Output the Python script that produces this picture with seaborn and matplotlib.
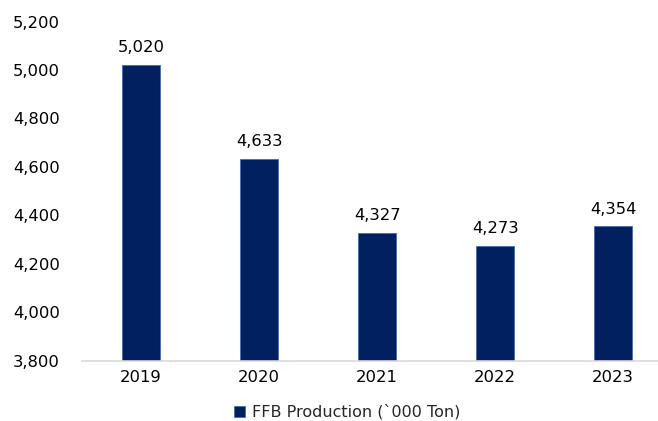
import matplotlib
matplotlib.use("Agg")
import matplotlib.pyplot as plt
import seaborn as sns
import pandas as pd

years = ["2019", "2020", "2021", "2022", "2023"]
production = [5020, 4633, 4327, 4273, 4354]
series_name = "FFB Production (`000 Ton)"
y_ticks = [3800, 4000, 4200, 4400, 4600, 4800, 5000, 5200]

df = pd.DataFrame({"Year": years, "Production": production, "Series": series_name})

sns.set_theme(style="white")
plt.rcParams["font.family"] = ["DejaVu Sans"]

fig = plt.figure(figsize=(6.58, 4.21), dpi=100)
W, H = 658, 421
ax = fig.add_axes([82 / W, 1 - 360.5 / H, (W - 82) / W, (360.5 - 21.5) / H])

navy = "#002060"
sns.barplot(data=df, x="Year", y="Production", hue="Series", palette=[navy],
            saturation=1, width=0.32, ax=ax, edgecolor="#4a6aa8", linewidth=0.6)

ax.set_ylim(3800, 5200)
ax.set_xlim(-0.5, 4.38)
ax.set_yticks(y_ticks)
ax.set_yticklabels([f"{v:,}" for v in y_ticks])
ax.set_xlabel("")
ax.set_ylabel("")
ax.tick_params(axis="both", length=0, labelsize=11.8, colors="black")
ax.tick_params(axis="y", pad=16)
ax.tick_params(axis="x", pad=7)

for s in ["top", "right", "left"]:
    ax.spines[s].set_visible(False)
ax.spines["bottom"].set_color("#d9d9d9")
ax.spines["bottom"].set_linewidth(1.2)

for c in ax.containers:
    ax.bar_label(c, labels=[f"{v:,}" for v in production], padding=7,
                 fontsize=11.8, color="black")

leg = ax.legend(loc="center", bbox_to_anchor=(347 / W, 1 - 412 / H),
                bbox_transform=fig.transFigure, frameon=False, fontsize=11.5,
                handlelength=0.7, handleheight=0.7, handletextpad=0.4)

fig.savefig("out.png", dpi=100)
